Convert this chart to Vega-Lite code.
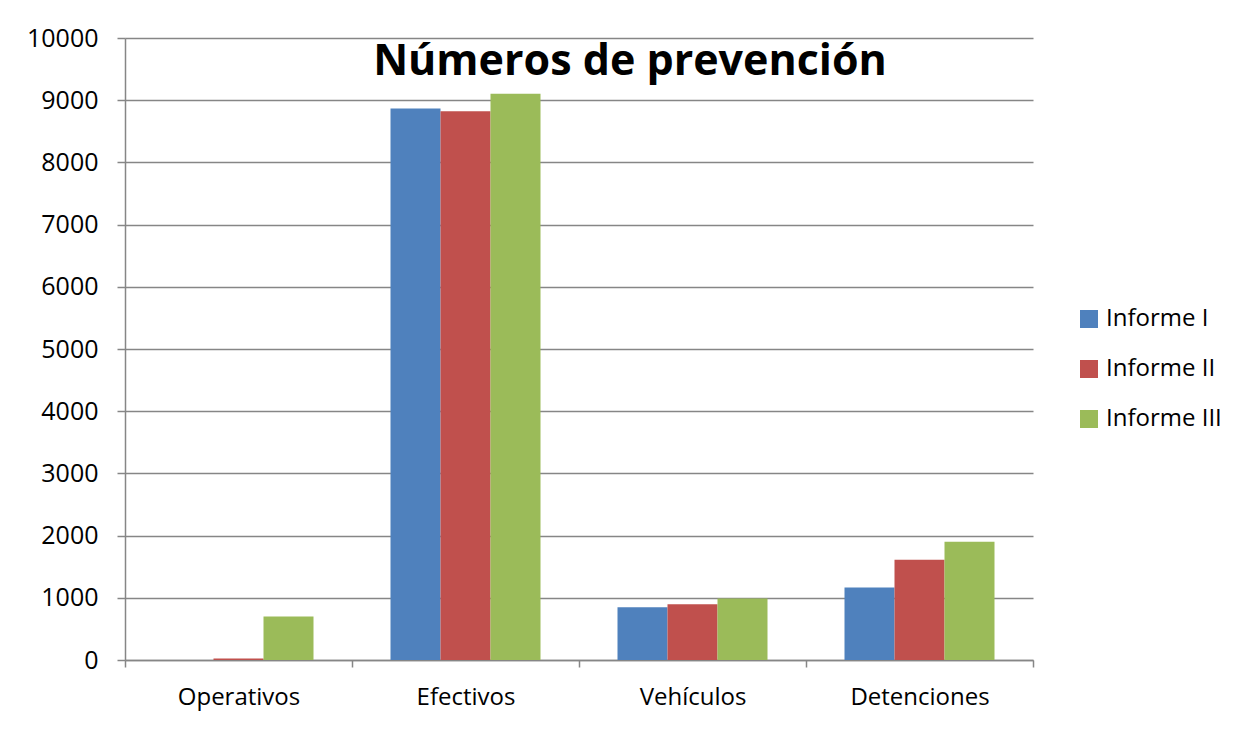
{
  "$schema": "https://vega.github.io/schema/vega-lite/v6.json",
  "width": 908,
  "height": 622,
  "autosize": "none",
  "padding": {"left": 125, "top": 38, "right": 227, "bottom": 83},
  "background": "white",
  "title": {
    "text": "Números de prevención",
    "anchor": "middle",
    "frame": "group",
    "font": "Open Sans",
    "fontSize": 43,
    "fontWeight": "bold",
    "color": "black",
    "baseline": "alphabetic",
    "orient": "top",
    "offset": -92,
    "dx": 51
  },
  "data": {
    "values": [
      {"Categoria": "Operativos", "Serie": "Informe I", "Valor": 0},
      {"Categoria": "Operativos", "Serie": "Informe II", "Valor": 25},
      {"Categoria": "Operativos", "Serie": "Informe III", "Valor": 700},
      {"Categoria": "Efectivos", "Serie": "Informe I", "Valor": 8865},
      {"Categoria": "Efectivos", "Serie": "Informe II", "Valor": 8822},
      {"Categoria": "Efectivos", "Serie": "Informe III", "Valor": 9102},
      {"Categoria": "Vehículos", "Serie": "Informe I", "Valor": 850},
      {"Categoria": "Vehículos", "Serie": "Informe II", "Valor": 898},
      {"Categoria": "Vehículos", "Serie": "Informe III", "Valor": 990},
      {"Categoria": "Detenciones", "Serie": "Informe I", "Valor": 1166},
      {"Categoria": "Detenciones", "Serie": "Informe II", "Valor": 1610},
      {"Categoria": "Detenciones", "Serie": "Informe III", "Valor": 1900}
    ]
  },
  "mark": {"type": "bar"},
  "encoding": {
    "x": {
      "field": "Categoria",
      "type": "nominal",
      "sort": ["Operativos", "Efectivos", "Vehículos", "Detenciones"],
      "scale": {"paddingInner": 0, "paddingOuter": 0},
      "axis": {
        "title": null,
        "labelAngle": 0,
        "labelFont": "Open Sans",
        "labelFontSize": 24,
        "labelColor": "black",
        "labelPadding": 18,
        "domainColor": "#868686",
        "domainWidth": 1.5,
        "tickColor": "#868686",
        "tickWidth": 1.5,
        "tickSize": 7,
        "tickBand": "extent",
        "grid": false
      }
    },
    "xOffset": {
      "field": "Serie",
      "type": "nominal",
      "scale": {"paddingInner": 0, "paddingOuter": 0.77}
    },
    "y": {
      "field": "Valor",
      "type": "quantitative",
      "scale": {"domain": [0, 10000], "nice": false},
      "axis": {
        "title": null,
        "values": [0, 1000, 2000, 3000, 4000, 5000, 6000, 7000, 8000, 9000, 10000],
        "format": "d",
        "labelFont": "Open Sans",
        "labelFontSize": 25,
        "labelColor": "black",
        "labelPadding": 19,
        "domainColor": "#868686",
        "domainWidth": 1.5,
        "tickColor": "#868686",
        "tickWidth": 1.5,
        "tickSize": 8,
        "grid": true,
        "gridColor": "#868686",
        "gridWidth": 1.5
      }
    },
    "color": {
      "field": "Serie",
      "type": "nominal",
      "scale": {
        "domain": ["Informe I", "Informe II", "Informe III"],
        "range": ["#4F81BD", "#C0504D", "#9BBB59"]
      },
      "legend": {
        "title": null,
        "orient": "none",
        "legendX": 952,
        "legendY": 269,
        "symbolType": "square",
        "symbolSize": 324,
        "symbolStrokeWidth": 0,
        "labelFont": "Open Sans",
        "labelFontSize": 24,
        "labelColor": "black",
        "labelOffset": 5,
        "rowPadding": 26
      }
    }
  },
  "config": {
    "view": {"stroke": null}
  }
}
